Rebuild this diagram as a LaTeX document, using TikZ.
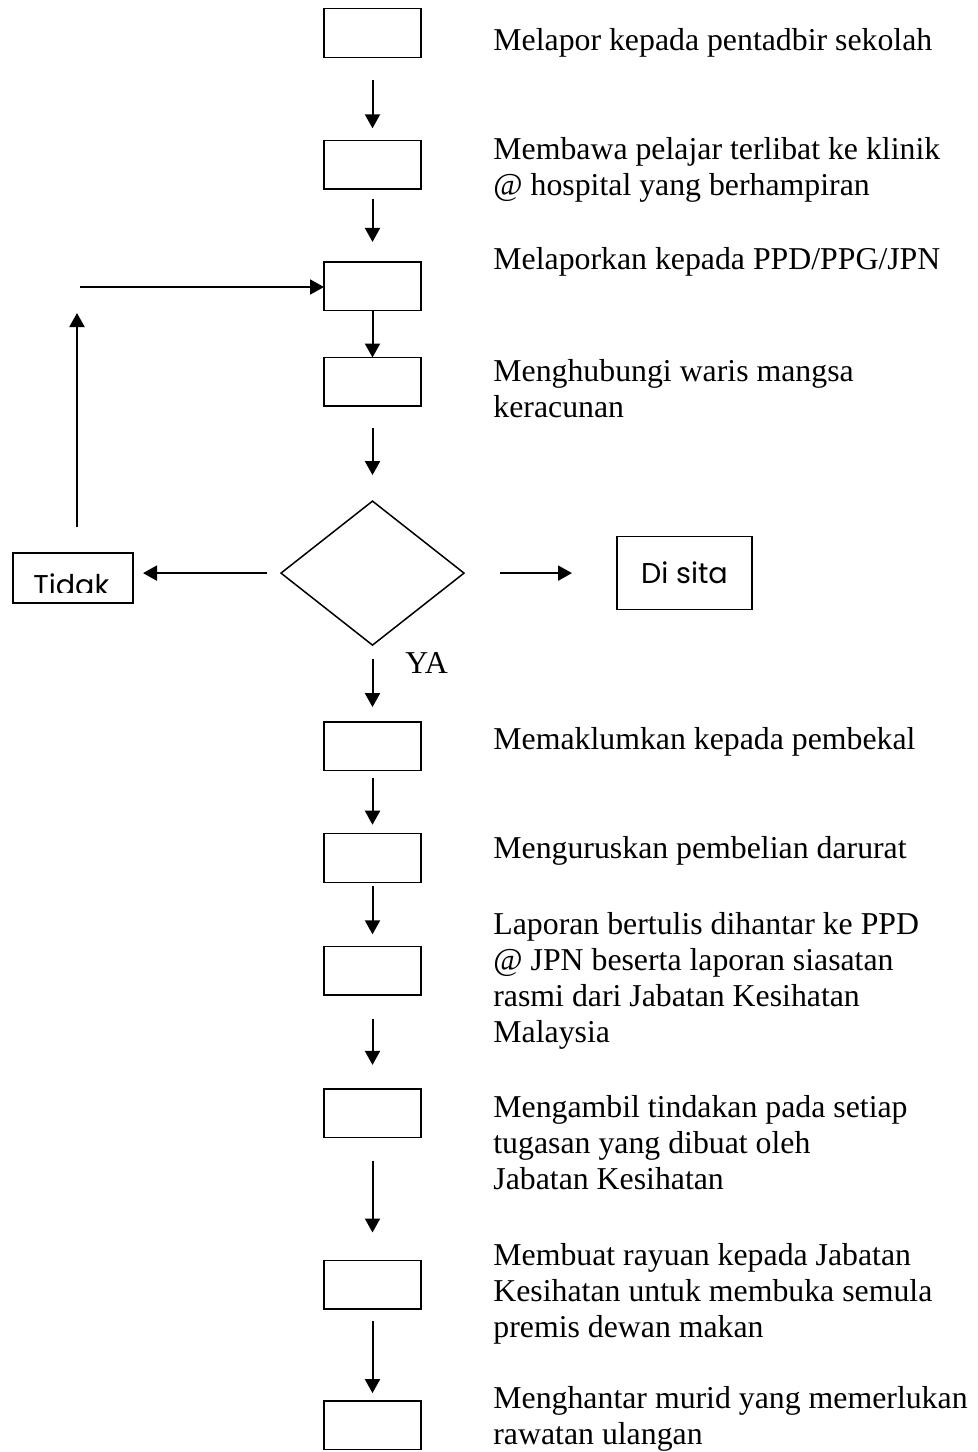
\documentclass[tikz,border=0pt]{standalone}
\usepackage{fontspec}
\setmainfont{Liberation Serif}
\newfontfamily\gothic{Poppins}
\usetikzlibrary{arrows.meta,shapes.geometric,positioning}
\tikzstyle{block} = [
  rectangle, draw, line width = 0.75pt, minimum width = 48.5pt,
  minimum height = 24.3pt, inner sep = 0pt, outer sep = 0pt
]
\tikzstyle{decision} = [
  diamond, draw, line width = 0.75pt, aspect = 1.28, minimum width =
  91.5pt, minimum height = 72pt, inner sep = 0pt, outer sep = 0pt
]
\tikzstyle{sidebox} = [
  rectangle, draw, line width = 0.75pt, inner sep = 0pt, outer sep = 0pt,
  font = \gothic\fontsize{14.3}{17}\selectfont
]
\tikzstyle{note} = [
  anchor = base west, align = left, inner sep = 0pt,
  font = \fontsize{15.9}{18}\selectfont
]
\tikzstyle{flow} = [-{Triangle[length=7pt,width=7.5pt]}, line width = 1pt]

\begin{document}
\begin{tikzpicture}[x=0.5pt, y=-0.5pt]
    \useasboundingbox (0,0) rectangle (978,1452);

    \node[block] (lapor) at (372.5,33) {};
    \node[block, below=41.5pt of lapor] (klinik) {};
    \node[block, below=36.5pt of klinik] (ppd) {};
    \node[block, below=23.5pt of ppd] (waris) {};
    \node[decision, below=47.5pt of waris] (keputusan) {};
    \node[block, below=38.5pt of keputusan] (pembekal) {};
    \node[block, below=31.5pt of pembekal] (darurat) {};
    \node[block, below=32pt of darurat] (laporan) {};
    \node[block, below=47pt of laporan] (tindakan) {};
    \node[block, below=61.5pt of tindakan] (rayuan) {};
    \node[block, below=46pt of rayuan] (rawatan) {};

    \node[sidebox, minimum width=60pt, minimum height=25pt] (tidak) at (73,578) {};
    \node[sidebox, minimum width=67.5pt, minimum height=36.5pt, right=76.5pt of keputusan] (sita) {Di sita\hspace{6pt}};
    \begin{scope}
      \clip (tidak.north west) rectangle ([yshift=5.5pt]tidak.south east);
      \node[anchor=base west, inner sep=0pt, font=\gothic\fontsize{14.3}{17}\selectfont] (tidaktxt) at (33,595) {Tidak};
    \end{scope}

    % multi-line notes are placed by the baseline of their last line
    \node[note] (t1) at (493,50) {Melapor kepada pentadbir sekolah};
    \node[note] (t2) at (493,195) {Membawa pelajar terlibat ke klinik\\@ hospital yang berhampiran};
    \node[note] (t3) at (493,269) {Melaporkan kepada PPD/PPG/JPN};
    \node[note] (t4) at (493,417) {Menghubungi waris mangsa\\keracunan};
    \node[note] (ya) at (405,673) {YA};
    \node[note] (t5) at (493,749) {Memaklumkan kepada pembekal};
    \node[note] (t6) at (493,858) {Menguruskan pembelian darurat};
    \node[note] (t7) at (493,1042) {Laporan bertulis dihantar ke PPD\\@ JPN beserta laporan siasatan\\rasmi dari Jabatan Kesihatan\\Malaysia};
    \node[note] (t8) at (493,1189) {Mengambil tindakan pada setiap\\tugasan yang dibuat oleh\\Jabatan Kesihatan};
    \node[note] (t9) at (493,1337) {Membuat rayuan kepada Jabatan\\Kesihatan untuk membuka semula\\premis dewan makan};
    \node[note] (t10) at (493,1444) {Menghantar murid yang memerlukan\\rawatan ulangan};

    \draw[flow, shorten <=11.5pt, shorten >=6pt] (lapor) -- (klinik);
    \draw[flow, shorten <=5pt, shorten >=10pt] (klinik) -- (ppd);
    \draw[flow] (ppd) -- (waris);
    \draw[flow, shorten <=11pt, shorten >=13pt] (waris) -- (keputusan);
    \draw[flow, shorten <=7pt, shorten >=7.5pt] (keputusan) -- (pembekal);
    \draw[flow, shorten <=3.5pt, shorten >=4.5pt] (pembekal) -- (darurat);
    \draw[flow, shorten <=2pt, shorten >=6pt] (darurat) -- (laporan);
    \draw[flow, shorten <=12pt, shorten >=12pt] (laporan) -- (tindakan);
    \draw[flow, shorten <=11.5pt, shorten >=14pt] (tindakan) -- (rayuan);
    \draw[flow, shorten <=6pt, shorten >=4pt] (rayuan) -- (rawatan);

    \draw[flow, shorten <=7pt, shorten >=5pt] (keputusan.west) -- (keputusan.west -| tidak.east);
    \draw[flow, shorten <=18pt, shorten >=22.5pt] (keputusan.east) -- (keputusan.east -| sita.west);
    \coordinate (naik) at (77,313);
    \draw[flow, shorten <=13pt] (naik |- tidak.north) -- (naik);
    \coordinate (balik) at (80,287);
    \draw[flow] (balik) -- (balik -| ppd.west);
  \end{tikzpicture}
\end{document}
